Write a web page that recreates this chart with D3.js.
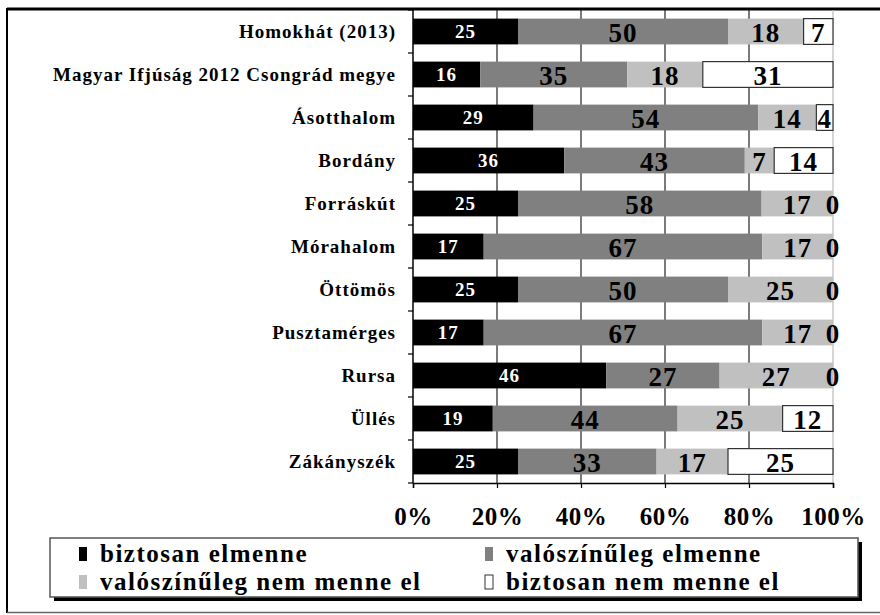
<!DOCTYPE html>
<html>
<head>
<meta charset="utf-8">
<script src="https://cdn.jsdelivr.net/npm/d3@7"></script>
<style>
  body { margin: 0; background: #fff; }
  svg text { font-family: "Liberation Serif", "Times New Roman", serif; font-weight: bold; }
</style>
</head>
<body>
<svg width="880" height="615"></svg>
<script>
var categories = ["Homokhát (2013)", "Magyar Ifjúság 2012 Csongrád megye", "Ásotthalom", "Bordány",
    "Forráskút", "Mórahalom", "Öttömös", "Pusztamérges", "Rursa", "Üllés", "Zákányszék"];
var seriesNames = ["biztosan elmenne", "valószínűleg elmenne", "valószínűleg nem menne el", "biztosan nem menne el"];
var biztosanEl = [25, 16, 29, 36, 25, 17, 25, 17, 46, 19, 25];
var valoszinulegEl = [50, 35, 54, 43, 58, 67, 50, 67, 27, 44, 33];
var valoszinulegNem = [18, 18, 14, 7, 17, 17, 25, 17, 27, 25, 17];
var biztosanNem = [7, 31, 4, 14, 0, 0, 0, 0, 0, 12, 25];
var tickLabels = ["0%", "20%", "40%", "60%", "80%", "100%"];

var colors = ["#000000", "#808080", "#c0c0c0", "#ffffff"],
    labelColors = ["#ffffff", "#000000", "#000000", "#000000"];

var svg = d3.select("svg"),
    plotLeft = 413, plotRight = 833, plotTop = 10, plotBottom = 483;

var rows = categories.map(function(c, i) {
    return { cat: c, s0: biztosanEl[i], s1: valoszinulegEl[i], s2: valoszinulegNem[i], s3: biztosanNem[i] };
});
var stack = d3.stack().keys(["s0", "s1", "s2", "s3"]).offset(d3.stackOffsetExpand);
var series = stack(rows);

var x = d3.scaleLinear().domain([0, 1]).range([plotLeft, plotRight]);
var y = d3.scaleBand().domain(categories).range([plotTop, plotBottom]).paddingInner(0.4).paddingOuter(0.2);

// outer frame
svg.append("line").attr("x1", 7).attr("x2", 880).attr("y1", 9).attr("y2", 9)
    .attr("stroke", "#000").attr("stroke-width", 3);
svg.append("line").attr("x1", 7).attr("x2", 7).attr("y1", 8).attr("y2", 613)
    .attr("stroke", "#000").attr("stroke-width", 2);
svg.append("line").attr("x1", 7).attr("x2", 880).attr("y1", 612.5).attr("y2", 612.5)
    .attr("stroke", "#666").attr("stroke-width", 1.5);

// gridlines
svg.append("g").selectAll("line")
    .data([0.2, 0.4, 0.6, 0.8, 1])
    .enter().append("line")
    .attr("x1", function(d) { return x(d); })
    .attr("x2", function(d) { return x(d); })
    .attr("y1", plotTop).attr("y2", plotBottom)
    .attr("stroke", function(d) { return d === 1 ? "#bbbbbb" : "#222"; })
    .attr("stroke-width", 1.2);

// bars
var layer = svg.append("g").selectAll("g")
    .data(series)
    .enter().append("g")
    .attr("fill", function(d, i) { return colors[i]; });

layer.selectAll("rect")
    .data(function(d) { return d.filter(function(p) { return p[1] - p[0] > 0; }); })
    .enter().append("rect")
    .attr("x", function(d) { return x(d[0]); })
    .attr("y", function(d) { return y(d.data.cat); })
    .attr("width", function(d) { return x(d[1]) - x(d[0]); })
    .attr("height", y.bandwidth())
    .attr("stroke", function() { return d3.select(this.parentNode).attr("fill") === "#ffffff" ? "#333" : "none"; })
    .attr("stroke-width", 1.2);

// data labels
series.forEach(function(s, si) {
    svg.append("g").selectAll("text")
        .data(s)
        .enter().append("text")
        .attr("x", function(d) { return x((d[0] + d[1]) / 2); })
        .attr("y", function(d) { return y(d.data.cat) + y.bandwidth() / 2; })
        .attr("dy", si === 0 ? "0.36em" : "0.38em")
        .attr("text-anchor", "middle")
        .attr("fill", labelColors[si])
        .style("font-size", si === 0 ? "19px" : "27px")
        .style("letter-spacing", "1px")
        .text(function(d) { return d.data[s.key]; });
});

// y axis
var yAxis = svg.append("g").attr("transform", "translate(" + plotLeft + ",0)");
yAxis.append("line").attr("x1", 0).attr("x2", 0).attr("y1", plotTop).attr("y2", plotBottom)
    .attr("stroke", "#000").attr("stroke-width", 1.5);
yAxis.selectAll(".tk")
    .data(d3.range(categories.length + 1))
    .enter().append("line")
    .attr("x1", -5).attr("x2", 0)
    .attr("y1", function(i) { return plotTop + i * y.step(); })
    .attr("y2", function(i) { return plotTop + i * y.step(); })
    .attr("stroke", "#000").attr("stroke-width", 1.2);
yAxis.selectAll("text")
    .data(categories)
    .enter().append("text")
    .attr("x", -17)
    .attr("y", function(d) { return y(d) + y.bandwidth() / 2; })
    .attr("dy", "0.35em")
    .attr("text-anchor", "end")
    .style("font-size", "19px")
    .style("letter-spacing", "1px")
    .text(function(d) { return d; });

// x axis
var xAxis = svg.append("g").attr("transform", "translate(0," + plotBottom + ")")
    .call(d3.axisBottom(x).tickValues([0, 0.2, 0.4, 0.6, 0.8, 1])
        .tickFormat(function(d, i) { return tickLabels[i]; })
        .tickSize(5).tickPadding(19));
xAxis.select(".domain").attr("stroke", "#000").attr("stroke-width", 1.5);
xAxis.selectAll(".tick line").attr("stroke", "#000").attr("stroke-width", 1.2);
xAxis.selectAll(".tick text")
    .attr("fill", "#000")
    .style("font-size", "25px")
    .style("letter-spacing", "0.5px")
    .style("font-family", "'Liberation Serif', serif");

// legend
var legend = svg.append("g");
legend.append("rect").attr("x", 54).attr("y", 542).attr("width", 808).attr("height", 59).attr("fill", "#000");
legend.append("rect").attr("x", 50).attr("y", 538).attr("width", 808).attr("height", 59)
    .attr("fill", "#fff").attr("stroke", "#555").attr("stroke-width", 1.5);
var legPos = [[79, 562], [485, 562], [79, 590], [485, 590]];
seriesNames.forEach(function(name, i) {
    var g = legend.append("g").attr("transform", "translate(" + legPos[i][0] + "," + legPos[i][1] + ")");
    g.append("rect").attr("x", 0).attr("y", -15).attr("width", 8).attr("height", 14)
        .attr("fill", colors[i]).attr("stroke", i === 3 ? "#333" : "none");
    g.append("text").attr("x", 21).attr("y", 0)
        .style("font-size", "25px")
        .style("letter-spacing", "1.5px")
        .text(name);
});
</script>
</body>
</html>
